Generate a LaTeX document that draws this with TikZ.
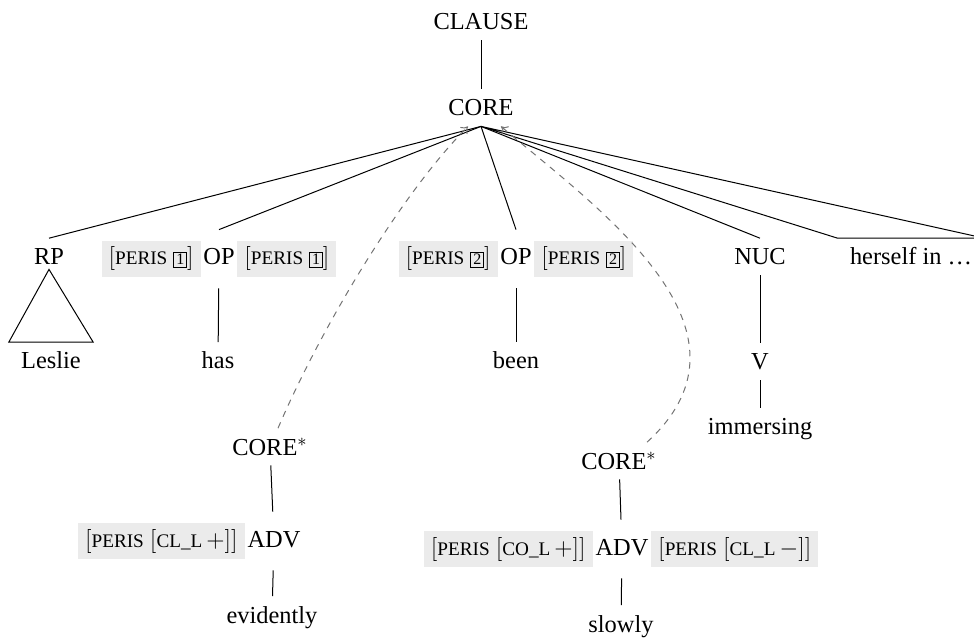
\documentclass[tikz,border=0pt]{standalone}
\usepackage{fontspec}
\setmainfont{Liberation Serif}
\usetikzlibrary{arrows.meta}
\definecolor{boxgray}{RGB}{235,235,235}
\definecolor{movegray}{RGB}{115,115,115}
% feature labels in reduced capitals
\newcommand{\smc}[1]{{\fontsize{9.6}{11}\selectfont #1}}
% boxed index tags
\newcommand{\tagno}[1]{{\setlength{\fboxsep}{1pt}\setlength{\fboxrule}{0.4pt}\fbox{\fontsize{8}{9}\selectfont #1}}}
\newcommand{\perisbox}[1]{$\bigl[$\smc{PERIS} \tagno{#1}$\bigr]$}
\newcommand{\perisval}[2]{$\bigl[$\smc{PERIS} $\bigl[$\smc{#1}\,$#2\bigr]\bigr]$}
\begin{document}
\begin{tikzpicture}[x=0.5pt,y=-0.5pt,
  lab/.style={anchor=base,font=\fontsize{12.2}{14}\selectfont,
    text height=8.2pt,text depth=0pt,inner ysep=5pt,inner xsep=1pt},
  boxed/.style={lab,text height=12.5pt,text depth=6.5pt},
  pbox/.style={fill=boxgray,minimum height=18pt,inner xsep=3.5pt,inner ysep=0pt,
    font=\fontsize{12.2}{14}\selectfont},
  edge/.style={line width=0.5pt},
  move/.style={movegray,dash pattern=on 3.2pt off 3pt,line width=0.5pt,
    -{To[length=3.2pt,width=5pt]}}]
\useasboundingbox (0,0) rectangle (974,641);

% nodes
\node[lab] (clause) at (481,30) {CLAUSE};
\node[lab] (core)   at (481,116) {CORE};
\node[lab] (rp)     at (49,265) {RP};
\node[boxed] (op1)  at (219,265) {OP};
\node[boxed] (op2)  at (516,265) {OP};
\node[lab] (nuc)    at (760,265) {NUC};
\node[lab,inner xsep=6pt] (her) at (911,265) {herself in \ldots};
\node[lab,inner xsep=6pt] (leslie) at (51,369) {Leslie};
\node[lab] (has)    at (218,369) {has};
\node[lab] (been)   at (516,369) {been};
\node[lab] (v)      at (760,370) {V};
\node[lab] (imm)    at (760,435) {immersing};
\node[lab] (corel)  at (270,455) {CORE$^{*}$};
\node[boxed] (advl) at (274,547) {ADV};
\node[lab] (evid)   at (272,623) {evidently};
\node[lab] (corer)  at (619,469) {CORE$^{*}$};
\node[boxed] (advr) at (622,555) {ADV};
\node[lab] (slow)   at (621,632) {slowly};

% feature boxes
\node[pbox,anchor=east] (op1l) at (op1.west) {\perisbox{1}};
\node[pbox,anchor=west] (op1r) at (op1.east) {\perisbox{1}};
\node[pbox,anchor=east] (op2l) at (op2.west) {\perisbox{2}};
\node[pbox,anchor=west] (op2r) at (op2.east) {\perisbox{2}};
\node[pbox,anchor=east] (advll) at (advl.west) {\perisval{CL\textunderscore L}{+}};
\node[pbox,anchor=east] (advrl) at (advr.west) {\perisval{CO\textunderscore L}{+}};
\node[pbox,anchor=west] (advrr) at (advr.east) {\perisval{CL\textunderscore L}{-}};

% branches
\draw[edge] (clause) -- (core);
\draw[edge] (core.south) -- (rp.north);
\draw[edge] (core.south) -- (op1.north);
\draw[edge] (core.south) -- (op2.north);
\draw[edge] (core.south) -- (nuc.north);
\draw[edge] (core.south) -- (her.north west) -- (her.north east) -- cycle;
\draw[edge] ([yshift=3pt]rp.south) -- (leslie.north west) -- (leslie.north east) -- cycle;
\draw[edge] (op1) -- (has);
\draw[edge] (op2) -- (been);
\draw[edge] (nuc) -- (v);
\draw[edge] (v) -- (imm);
\draw[edge] (corel) -- (advl);
\draw[edge] (advl) -- (evid);
\draw[edge] (corer) -- (advr);
\draw[edge] (advr) -- (slow);

% adjunction links
\draw[move] ([xshift=4pt]corel.north) .. controls (320,330) and (400,195) .. ([xshift=-6.5pt]core.south);
\draw[move] ([xshift=14pt]corer.north) .. controls (770,330) and (600,210) .. ([xshift=10pt]core.south);
\end{tikzpicture}
\end{document}
